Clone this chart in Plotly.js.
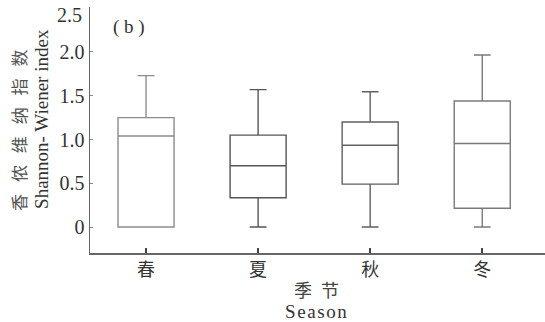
<!DOCTYPE html>
<html><head><meta charset="utf-8">
<script src="https://cdn.plot.ly/plotly-3.0.1.min.js"></script>
<style>html,body{margin:0;padding:0;background:#fff;}</style>
</head><body>
<div id="chart" style="width:545px;height:322px;"></div>
<script>
// Data
const seasons = ['春', '夏', '秋', '冬'];
const lowerFence = [0, 0, 0, 0];
const q1Values = [0, 0.335, 0.49, 0.215];
const medianValues = [1.04, 0.70, 0.935, 0.955];
const q3Values = [1.25, 1.05, 1.20, 1.44];
const upperFence = [1.73, 1.57, 1.545, 1.965];
const yTickVals = [0, 0.5, 1.0, 1.5, 2.0];
const yTickText = ['0', '0.5', '1.0', '1.5', '2.0'];
const yTopLabel = '2.5';

const lineColors = ['#8c8c8c', '#555555', '#606060', '#7a7a7a'];
const FONT = 'Liberation Serif, Noto Sans CJK SC, serif';

const traces = seasons.map((s, i) => ({
  type: 'box',
  x: [s],
  q1: [q1Values[i]],
  median: [medianValues[i]],
  q3: [q3Values[i]],
  lowerfence: [lowerFence[i]],
  upperfence: [upperFence[i]],
  width: 0.5,
  whiskerwidth: 0.3,
  fillcolor: 'rgba(255,255,255,0)',
  line: {color: lineColors[i], width: 1.4},
  showlegend: false,
  hoverinfo: 'skip'
}));

const layout = {
  width: 545, height: 322,
  margin: {l: 90, r: 0, t: 7, b: 69},
  paper_bgcolor: '#fff', plot_bgcolor: '#fff',
  boxmode: 'overlay',
  font: {family: FONT, color: '#333', size: 18},
  xaxis: {
    type: 'category',
    categoryorder: 'array', categoryarray: seasons,
    range: [-0.5, 3.56],
    showline: true, linecolor: '#666', linewidth: 1.5,
    ticks: 'inside', ticklen: 5, tickwidth: 2, tickcolor: '#444',
    showgrid: false, zeroline: false,
    tickfont: {family: FONT, size: 18, color: '#333'}
  },
  yaxis: {
    range: [-0.297, 2.514],
    tickvals: yTickVals, ticktext: yTickText,
    showline: true, linecolor: '#666', linewidth: 1.5,
    ticks: 'inside', ticklen: 3, tickwidth: 1, tickcolor: '#888',
    showgrid: false, zeroline: false,
    tickfont: {family: FONT, size: 20, color: '#333'}
  },
  annotations: [
    {xref: 'paper', yref: 'paper', x: (84 - 90) / 455, y: (253 - 15) / 246, xanchor: 'right', yanchor: 'middle',
     showarrow: false, text: yTopLabel, font: {family: FONT, size: 20, color: '#333'}},
    {xref: 'paper', yref: 'paper', x: (20 - 90) / 455, y: 0.5, xanchor: 'center', yanchor: 'middle',
     textangle: -90, showarrow: false, text: '香\u2002\u2009侬\u2002\u2009维\u2002\u2009纳\u2002\u2009指\u2002\u2009数',
     font: {family: FONT, size: 17, color: '#555'}},
    {xref: 'paper', yref: 'paper', x: (42 - 90) / 455, y: 0.545, xanchor: 'center', yanchor: 'middle',
     textangle: -90, showarrow: false, text: 'Shannon- Wiener index',
     font: {family: FONT, size: 19, color: '#333'}},
    {xref: 'paper', yref: 'paper', x: (316 - 90) / 455, y: (253 - 291) / 246, xanchor: 'center', yanchor: 'middle',
     showarrow: false, text: '季\u2002节',
     font: {family: FONT, size: 18, color: '#444'}},
    {xref: 'paper', yref: 'paper', x: (316 - 90) / 455, y: (253 - 311) / 246, xanchor: 'center', yanchor: 'middle',
     showarrow: false, text: 'S e a s o n'.replace(/ /g, '\u200a'),
     font: {family: FONT, size: 19, color: '#333'}},
    {xref: 'paper', yref: 'paper', x: (129 - 90) / 455, y: (253 - 27) / 246, xanchor: 'center', yanchor: 'middle',
     showarrow: false, text: '( b )',
     font: {family: FONT, size: 19, color: '#333'}}
  ]
};

Plotly.newPlot('chart', traces, layout, {staticPlot: true, displayModeBar: false});
</script>
</body></html>
